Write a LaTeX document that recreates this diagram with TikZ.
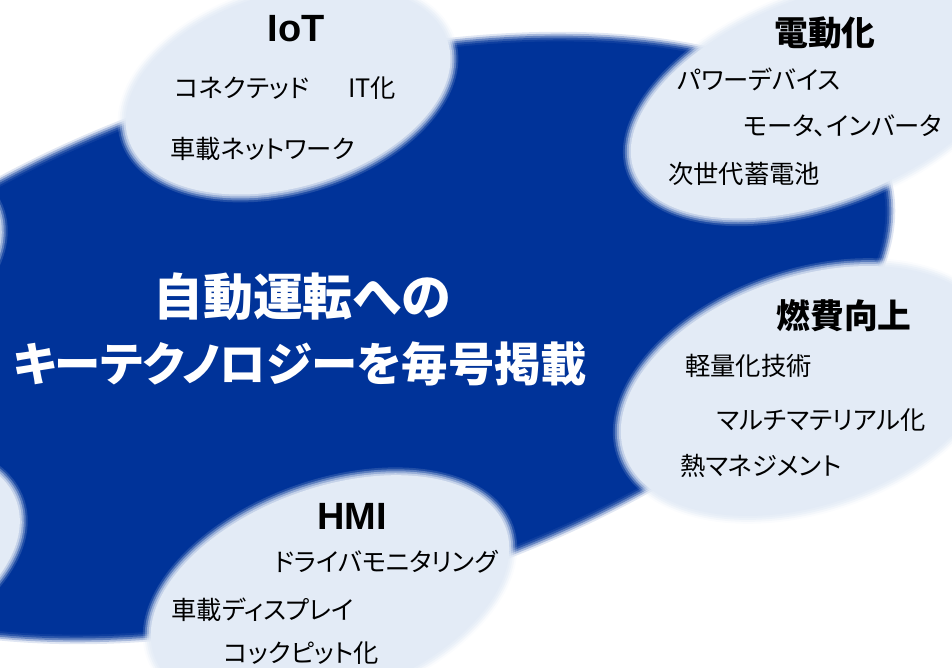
\documentclass[tikz,border=0pt]{standalone}
\usepackage{fontspec}
\setmainfont{Liberation Sans}
\newfontfamily\jp[RawFeature=+palt]{Noto Sans CJK JP}
\definecolor{deepblue}{RGB}{0,51,153}
\definecolor{bubble}{RGB}{227,235,246}

\begin{document}
\begin{tikzpicture}[x=0.025cm, y=-0.025cm,
    every node/.style={inner sep=0pt},
    head/.style={font=\bfseries\fontsize{27}{30}\selectfont},
    jphead/.style={font=\jp\bfseries\fontsize{24}{28}\selectfont},
    item/.style={anchor=west, font=\jp\fontsize{18}{21}\selectfont},
    title/.style={text=white, font=\jp\bfseries\fontsize{33}{40}\selectfont}]
    \useasboundingbox (0,0) rectangle (952,668);
    \clip (0,0) rectangle (952,668);

    % big blue blob, soft edge
    \foreach \g/\op in {5/0.12,3/0.25,1/0.4,-1/0.55,-3/0.7}
        \fill[deepblue, opacity=\op, rotate around={15.8:(318,338)}] (318,338) ellipse [x radius=590+\g, y radius=265+\g];
    \fill[deepblue, rotate around={15.8:(318,338)}] (318,338) ellipse [x radius=585, y radius=260];

    % light bubbles
    \foreach \cx/\cy/\a/\b/\t in {288/90/171/101/16.6, 822/99/205/106/21, 808/391/198/118/19,
                                   330/592/191/108/20, -160/560/190/108/18, -180/270/190/108/18} {
        \foreach \g/\op in {4/0.15,2/0.3,0/0.45,-2/0.6}
            \fill[bubble, opacity=\op, rotate around={\t:(\cx,\cy)}] (\cx,\cy) ellipse [x radius=\a+\g, y radius=\b+\g];
        \fill[bubble, rotate around={\t:(\cx,\cy)}] (\cx,\cy) ellipse [x radius=\a-4, y radius=\b-4];
    }

    \node[head] (iot) at (296,29) {IoT};
    \node[item] (iot-conn) at (175,88) {コネクテッド};
    \node[item] (iot-it) at (348,88) {IT化};
    \node[item] (iot-net) at (170,149) {車載ネットワーク};

    \node[jphead] (elec) at (825,33) {電動化};
    \node[item] (elec-pow) at (677,79) {パワーデバイス};
    \node[item] (elec-mot) at (743,126) {モータ、インバータ};
    \node[item] (elec-bat) at (668,174) {次世代蓄電池};

    \node[jphead] (fuel) at (844,316) {燃費向上};
    \node[item] (fuel-light) at (685,366) {軽量化技術};
    \node[item] (fuel-multi) at (717,420) {マルチマテリアル化};
    \node[item] (fuel-heat) at (680,466) {熱マネジメント};

    \node[head] (hmi) at (352,516) {HMI};
    \node[item] (hmi-mon) at (274,562) {ドライバモニタリング};
    \node[item] (hmi-disp) at (171,610) {車載ディスプレイ};
    \node[item] (hmi-cock) at (224,653) {コックピット化};

    \node[title, font=\jp\bfseries\fontsize{35.5}{40}\selectfont] (title-a) at (302,297) {自動運転への};
    \node[title] (title-b) at (300,364) {キーテクノロジーを毎号掲載};
\end{tikzpicture}
\end{document}
